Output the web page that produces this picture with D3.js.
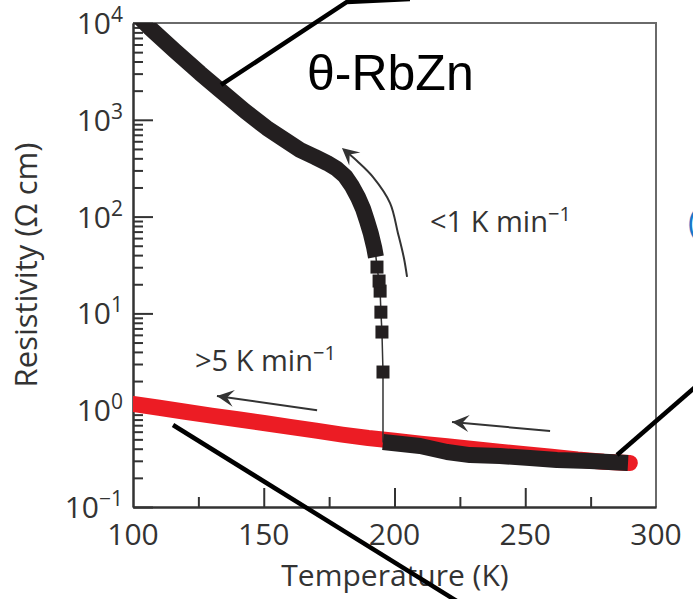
<!DOCTYPE html>
<html><head><meta charset="utf-8">
<script src="https://cdn.jsdelivr.net/npm/d3@7"></script>
<style>body{margin:0;background:#fff}svg{display:block}</style>
</head><body>
<svg id="chart" width="693" height="599"></svg>
<script>
// ---------- data ----------
const xTickLabels = [100, 150, 200, 250, 300];
const xMajorTicks = [150, 200, 250];
const xMinorTicks = [125, 175, 225, 275];
const yDecadeExps = [-1, 0, 1, 2, 3, 4];

// red: fast cooling (>5 K/min)
const redT   = [100, 110, 120, 130, 140, 150, 160, 170, 180, 190, 200, 210, 220, 230, 240, 250, 260, 270, 280, 290];
const redRho = [1.16, 1.06, 0.964, 0.88, 0.807, 0.738, 0.673, 0.614, 0.56, 0.516, 0.484, 0.452, 0.424, 0.398, 0.373, 0.351, 0.331, 0.309, 0.294, 0.285];

// black: slow cooling (<1 K/min), high-T metallic part
const blackLowT   = [289.3, 274.8, 262.1, 251.8, 240.3, 228.9, 220.1, 209.8, 195.6];
const blackLowRho = [0.285, 0.299, 0.306, 0.321, 0.336, 0.344, 0.370, 0.427, 0.47];
// black: sparse points of the jump
const blackJumpT   = [195.6, 195.2, 194.8, 194.5, 194.1, 193.3];
const blackJumpRho = [2.48, 6.42, 10.3, 17.0, 21.6, 30.1];
// black: low-T insulating part
const blackHighT   = [192.9, 192.2, 191.0, 189.5, 188.0, 186.0, 183.7, 181.1, 178.0, 174.2, 169.6, 163.9, 158.1, 151.2, 142.8, 133.3, 125.6, 116.1, 106.5, 102.7];
const blackHighRho = [38.3, 48.5, 66, 90, 120, 159, 207, 262, 311, 358, 413, 488, 618, 822, 1233, 2030, 3040, 5140, 8880, 11270];

// ---------- layout ----------
const svg = d3.select("#chart");
const L = 133, R = 656, T0 = 23, B = 507;
const x = d3.scaleLinear().domain([100, 300]).range([L, R]);
const y = d3.scaleLog().domain([0.1, 1e4]).range([B, T0]);
const FONT = "'Open Sans', sans-serif";
const TXT = "#333";

svg.append("defs").append("clipPath").attr("id", "plot")
  .append("rect").attr("x", L).attr("y", T0).attr("width", R - L).attr("height", B - T0);

// frame (top/right)
svg.append("path").attr("d", `M${L},${T0}H${R}V${B}`)
  .attr("fill", "none").attr("stroke", "#6a6a6a").attr("stroke-width", 2);

// axes
const yMinor = [];
yDecadeExps.slice(0, -1).forEach(e => { for (let m = 2; m <= 9; m++) yMinor.push(m * Math.pow(10, e)); });
const yMajor = yDecadeExps.map(e => Math.pow(10, e));

function styleAxis(g) {
  g.selectAll("path").attr("stroke", "#333").attr("stroke-width", 2);
  g.selectAll("line").attr("stroke", "#333").attr("stroke-width", 2);
  g.selectAll("text").remove();
}
svg.append("g").attr("transform", `translate(${L},0)`)
  .call(d3.axisLeft(y).tickValues(yMajor).tickSize(-20).tickSizeOuter(0)).call(styleAxis);
svg.append("g").attr("transform", `translate(${L},0)`)
  .call(d3.axisLeft(y).tickValues(yMinor).tickSize(-10).tickSizeOuter(0)).call(styleAxis);
svg.append("g").attr("transform", `translate(0,${B})`)
  .call(d3.axisBottom(x).tickValues(xMajorTicks).tickSize(-19).tickSizeOuter(0)).call(styleAxis);
svg.append("g").attr("transform", `translate(0,${B})`)
  .call(d3.axisBottom(x).tickValues(xMinorTicks).tickSize(-10).tickSizeOuter(0)).call(styleAxis);

// tick labels
yDecadeExps.forEach(e => {
  const t = svg.append("text").attr("x", 123).attr("y", y(Math.pow(10, e)) + 11)
    .attr("text-anchor", "end").attr("font-family", FONT).attr("font-size", 30).attr("fill", TXT);
  t.append("tspan").text("10");
  t.append("tspan").attr("dy", -12).attr("font-size", 21).text(e < 0 ? "\u2212" + (-e) : String(e));
});
xTickLabels.forEach(v => {
  svg.append("text").attr("x", x(v)).attr("y", 545).attr("text-anchor", "middle")
    .attr("font-family", FONT).attr("font-size", 30).attr("fill", TXT).text(v);
});
// axis titles
svg.append("text").attr("x", 395).attr("y", 586).attr("text-anchor", "middle")
  .attr("font-family", FONT).attr("font-size", 30).attr("fill", TXT).text("Temperature (K)");
svg.append("text").attr("transform", "translate(37,265) rotate(-90)").attr("text-anchor", "middle")
  .attr("font-family", FONT).attr("font-size", 31).attr("fill", TXT).text("Resistivity (\u03A9 cm)");

// ---------- data marks ----------
const plot = svg.append("g").attr("clip-path", "url(#plot)");
const line = d3.line().x(d => x(d[0])).y(d => y(d[1]));
const zip = (a, b) => a.map((v, i) => [v, b[i]]);

const redPts = zip(redT, redRho);
plot.append("path").attr("d", line(redPts)).attr("fill", "none")
  .attr("stroke", "#ec1c24").attr("stroke-width", 16).attr("stroke-linecap", "round").attr("stroke-linejoin", "round");

const lowPts = zip(blackLowT, blackLowRho);
const jumpPts = zip(blackJumpT, blackJumpRho);
const highPts = zip(blackHighT, blackHighRho);
const BLK = "#231f20";
// thin connecting line through all black points
plot.append("path").attr("d", line(lowPts.concat(jumpPts, highPts))).attr("fill", "none")
  .attr("stroke", "#333").attr("stroke-width", 1.5);
// dense parts as thick bands
[lowPts, highPts].forEach(p => {
  plot.append("path").attr("d", line(p)).attr("fill", "none")
    .attr("stroke", BLK).attr("stroke-width", 16).attr("stroke-linejoin", "round");
});
// square markers on the sparse jump
const SQ = 13;
plot.selectAll("rect.sq").data(jumpPts).join("rect")
  .attr("class", "sq").attr("x", d => x(d[0]) - SQ / 2).attr("y", d => y(d[1]) - SQ / 2)
  .attr("width", SQ).attr("height", SQ).attr("fill", BLK);

// ---------- annotations ----------
const ANN = "#333";
function arrowHead(tip, from, len, wid) {
  const a = Math.atan2(tip[1] - from[1], tip[0] - from[0]);
  const rot = (u, v) => [tip[0] + u * Math.cos(a) - v * Math.sin(a), tip[1] + u * Math.sin(a) + v * Math.cos(a)];
  const pts = [rot(0, 0), rot(-len, -wid / 2), rot(-len * 0.6, 0), rot(-len, wid / 2)];
  svg.append("path").attr("d", "M" + pts.map(p => p.join(",")).join("L") + "Z").attr("fill", ANN);
}
function straightArrow(tail, tip) {
  const a = [x(tail[0]), y(tail[1])], b = [x(tip[0]), y(tip[1])];
  svg.append("line").attr("x1", a[0]).attr("y1", a[1]).attr("x2", b[0]).attr("y2", b[1])
    .attr("stroke", ANN).attr("stroke-width", 2);
  arrowHead(b, a, 17, 17);
}
// curved arrow (slow cooling)
const curve = [[204.8, 23.8], [203.6, 37.3], [201.3, 67.8], [198.3, 138], [191.8, 256], [185.7, 375]];
const curveTip = [179.9, 512];
svg.append("path").attr("d", d3.line().x(d => x(d[0])).y(d => y(d[1])).curve(d3.curveCatmullRom)(curve.concat([[181.5, 470]])))
  .attr("fill", "none").attr("stroke", ANN).attr("stroke-width", 2);
arrowHead([x(curveTip[0]), y(curveTip[1])], [x(185.7), y(375)], 17, 17);
straightArrow([170.4, 1.0], [132.1, 1.40]);
straightArrow([259.5, 0.61], [222.0, 0.755]);

// rate labels
function rateLabel(px, py, prefix) {
  const t = svg.append("text").attr("x", px).attr("y", py).attr("font-family", FONT)
    .attr("font-size", 29).attr("fill", TXT);
  t.append("tspan").text(prefix + " K min");
  t.append("tspan").attr("dy", -11).attr("font-size", 20).text("\u22121");
}
rateLabel(430, 232, "<1");
rateLabel(195, 371, ">5");

// title
svg.append("text").attr("x", 307).attr("y", 90).attr("font-family", "'Liberation Sans', Arial, sans-serif")
  .attr("font-size", 50).attr("fill", "#000").text("\u03B8-RbZn");

// blue fragment at right edge (cut off in the reference too)
svg.append("text").attr("x", 688).attr("y", 234).attr("font-family", FONT)
  .attr("font-size", 32).attr("fill", "#1a78c8").text("(");

// callout lines
const callouts = [
  [[133.65, 2290], [181.8, 16500], [205.9, 17700]],
  [[115.3, 0.703], [225.0, 0.0102]],
  [[285.1, 0.344], [316.8, 1.91]]
];
callouts.forEach(c => {
  svg.append("path").attr("d", line(c)).attr("fill", "none")
    .attr("stroke", "#000").attr("stroke-width", 4.5);
});
</script>
</body></html>
